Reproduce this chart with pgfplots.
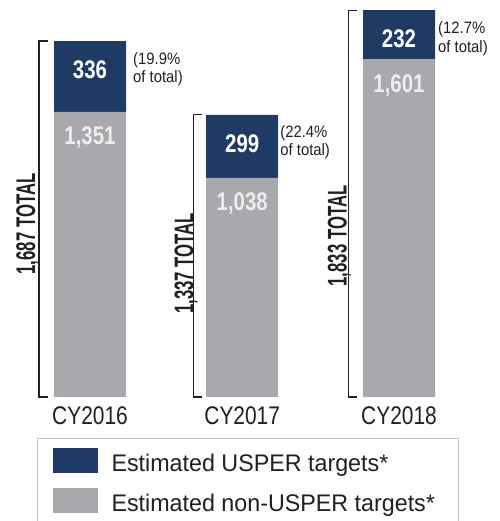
\documentclass[border=0pt]{standalone}
\usepackage{fontspec}
\setmainfont{Liberation Sans}
\newfontfamily\cyfont[FakeStretch=0.82]{Liberation Sans}
\newfontfamily\valfont[FakeStretch=0.8]{Liberation Sans}
\newfontfamily\totfont[FakeStretch=0.62]{Liberation Sans}
\newfontfamily\pctfont[FakeStretch=0.9]{Liberation Sans}
\newfontfamily\legfont[FakeStretch=0.97]{Liberation Sans}
\usepackage{pgfplots}
\usepackage{pgfplotstable}
\pgfplotsset{compat=1.18}

\definecolor{navy}{HTML}{1F3B64}
\definecolor{bargray}{HTML}{A7A9AC}
\definecolor{txt}{HTML}{231F20}
\definecolor{lightlab}{HTML}{EDEDEE}

% x positions of the three years, non-USPER and USPER targets
\pgfplotstableread{
x     non   us
0     1351  336
0.985 1038  299
2     1601  232
}\bartab

\begin{document}
\begin{tikzpicture}[x=1pt,y=1pt]
\begin{axis}[
    at={(12.75pt,124pt)}, anchor=south west,
    x=154.5pt, y=0.211pt,
    xmin=-0.5, xmax=2.5, ymin=0, ymax=1900,
    ybar stacked, bar width=72pt,
    axis line style={draw=none}, tick style={draw=none},
    ytick=\empty, xtick={0,0.985,2},
    xticklabels={CY2016,CY2017,CY2018},
    xticklabel style={font=\cyfont\fontsize{25.5}{28}\selectfont, text=txt, inner sep=0pt, yshift=-9pt},
    clip=false,
    point meta=explicit,
    nodes near coords,
    /pgf/number format/1000 sep={,},
    /pgf/number format/assume math mode=true,
    reverse legend,
    legend cell align=left,
    legend style={at={(axis cs:-0.343,-192)}, anchor=north west,
        draw=black!22, line width=1pt, fill=white,
        inner xsep=15pt, inner ysep=10pt, row sep=15pt, column sep=14pt,
        font=\legfont\fontsize{24}{28}\selectfont, text=txt,
        nodes={inner sep=0pt, anchor=base west}},
]
% non-USPER (bottom)
\addplot[fill=bargray, draw=none,
    visualization depends on={\thisrow{non} \as \segh},
    every node near coord/.append style={text=lightlab, anchor=base,
        yshift={0.1055*\segh-33},
        font=\valfont\bfseries\fontsize{25.5}{28}\selectfont},
    legend image code/.code={\fill[bargray] (0pt,-2pt) rectangle (45pt,23pt);}]
    table[x=x, y=non, meta=non] {\bartab};
\addlegendentry{Estimated non-USPER targets*\hspace*{9pt}\rule[-14pt]{0pt}{1pt}}
% USPER (top)
\addplot[fill=navy, draw=none,
    visualization depends on={\thisrow{us} \as \segh},
    every node near coord/.append style={text=white, anchor=base,
        yshift={0.1055*\segh-37.5},
        font=\valfont\bfseries\fontsize{25.5}{28}\selectfont},
    legend image code/.code={\fill[navy] (0pt,-2pt) rectangle (45pt,23pt);}]
    table[x=x, y=us, meta=us] {\bartab};
\addlegendentry{Estimated USPER targets*}

% brackets
\draw[txt, line width=1.1pt] ([xshift=-42pt]axis cs:0,1687) -- ([xshift=-51pt]axis cs:0,1687)
    -- ([xshift=-51pt]axis cs:0,0) -- ([xshift=-42pt]axis cs:0,0);
\draw[txt, line width=1.1pt] ([xshift=-40pt]axis cs:0.985,1337) -- ([xshift=-49pt]axis cs:0.985,1337)
    -- ([xshift=-49pt]axis cs:0.985,0) -- ([xshift=-40pt]axis cs:0.985,0);
\draw[txt, line width=1.1pt] ([xshift=-42pt]axis cs:2,1833) -- ([xshift=-50.5pt]axis cs:2,1833)
    -- ([xshift=-50.5pt]axis cs:2,0) -- ([xshift=-42pt]axis cs:2,0);

% totals
\node[rotate=90, anchor=base, inner sep=0pt, text=txt,
    font=\totfont\bfseries\fontsize{27}{30}\selectfont]
    at ([xshift=-55pt]axis cs:0,820) {1,687 TOTAL};
\node[rotate=90, anchor=base, inner sep=0pt, text=txt,
    font=\totfont\bfseries\fontsize{27}{30}\selectfont]
    at ([xshift=-48.7pt]axis cs:0.985,633) {1,337 TOTAL};
\node[rotate=90, anchor=base, inner sep=0pt, text=txt,
    font=\totfont\bfseries\fontsize{27}{30}\selectfont]
    at ([xshift=-52.3pt]axis cs:2,763) {1,833 TOTAL};

% shares
\node[anchor=north west, align=left, inner sep=0pt, text=txt,
    font=\pctfont\fontsize{16.5}{18.3}\selectfont]
    at ([xshift=43pt, yshift=-11pt]axis cs:0,1687) {(19.9\%\\of total)};
\node[anchor=north west, align=left, inner sep=0pt, text=txt,
    font=\pctfont\fontsize{16.5}{18.3}\selectfont]
    at ([xshift=38pt, yshift=-10pt]axis cs:0.985,1337) {(22.4\%\\of total)};
\node[anchor=north west, align=left, inner sep=0pt, text=txt,
    font=\pctfont\fontsize{16.5}{18.3}\selectfont]
    at ([xshift=39pt, yshift=-11.5pt]axis cs:2,1833) {(12.7\%\\of total)};
\end{axis}
\pgfresetboundingbox
\path[use as bounding box] (0,0) rectangle (499,521);
\end{tikzpicture}
\end{document}
